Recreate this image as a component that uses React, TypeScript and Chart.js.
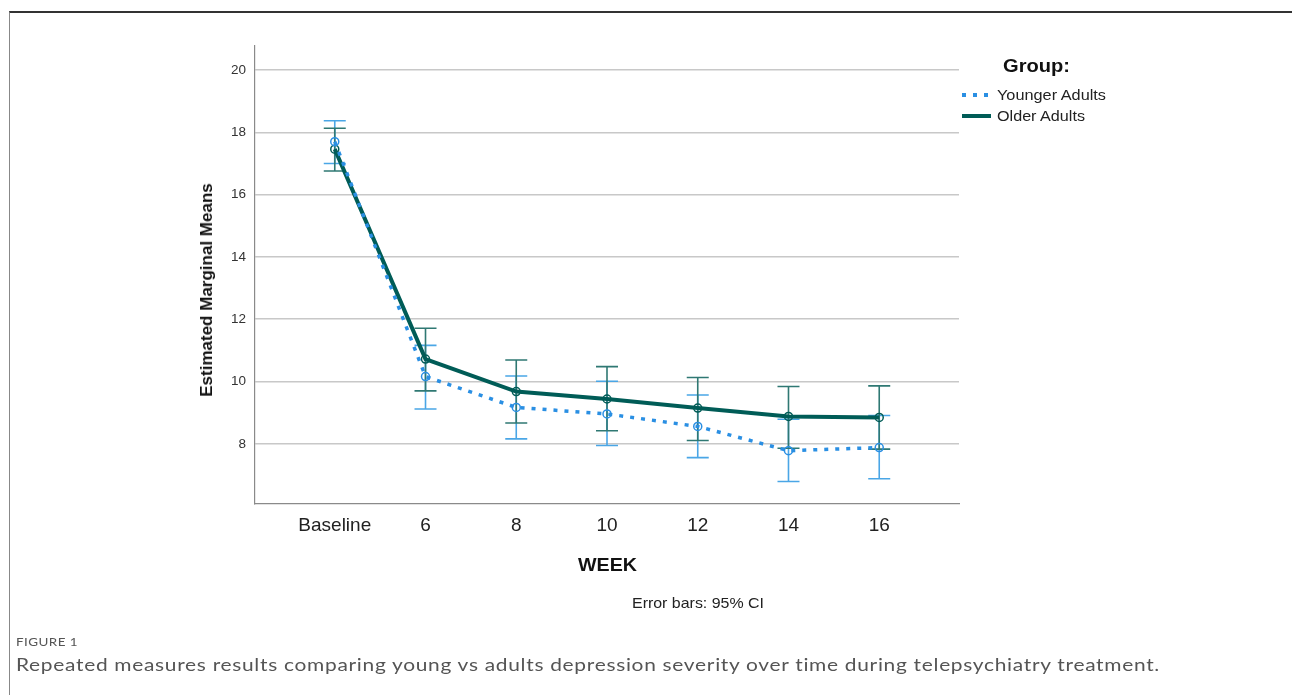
import React, { useEffect, useLayoutEffect, useRef } from "react";
import { Chart, registerables } from "chart.js";

Chart.register(...registerables);

const categories = ["Baseline", "6", "8", "10", "12", "14", "16"];
const youngerMeans = [17.7, 10.16, 9.17, 8.96, 8.56, 7.78, 7.88];
const youngerLower = [17.0, 9.12, 8.16, 7.95, 7.56, 6.79, 6.88];
const youngerUpper = [18.37, 11.16, 10.18, 10.01, 9.57, 8.79, 8.91];
const olderMeans = [17.46, 10.72, 9.68, 9.44, 9.15, 8.88, 8.85];
const olderLower = [16.76, 9.7, 8.67, 8.42, 8.11, 7.86, 7.83];
const olderUpper = [18.13, 11.71, 10.69, 10.48, 10.13, 9.84, 9.86];
const yTicks = [8, 10, 12, 14, 16, 18, 20];

const YOUNG = "#2a8fe3";
const YOUNG_EB = "#4aa6e6";
const OLD = "#005c57";
const OLD_EB = "#2f7873";
const ARIAL = "'Liberation Sans', Arial, sans-serif";

const errorBarPlugin = {
  id: "errorBars",
  beforeDatasetsDraw(chart: any) {
    const { ctx, scales } = chart;
    const sets = [
      { lo: youngerLower, hi: youngerUpper, color: YOUNG_EB },
      { lo: olderLower, hi: olderUpper, color: OLD_EB },
    ];
    ctx.save();
    sets.forEach((s) => {
      ctx.strokeStyle = s.color;
      ctx.lineWidth = 1.6;
      s.lo.forEach((lo, i) => {
        const x = scales.x.getPixelForValue(i);
        const y1 = scales.y.getPixelForValue(lo);
        const y2 = scales.y.getPixelForValue(s.hi[i]);
        ctx.beginPath();
        ctx.moveTo(x, y1);
        ctx.lineTo(x, y2);
        ctx.moveTo(x - 11, y1);
        ctx.lineTo(x + 11, y1);
        ctx.moveTo(x - 11, y2);
        ctx.lineTo(x + 11, y2);
        ctx.stroke();
      });
    });
    ctx.restore();
  },
};

type FitProps = {
  text: string;
  target: number;
  style: React.CSSProperties;
  box: React.CSSProperties;
};

function FitText({ text, target, style, box }: FitProps) {
  const ref = useRef<HTMLSpanElement | null>(null);
  useLayoutEffect(() => {
    const el = ref.current;
    if (!el) return;
    el.style.transform = "none";
    const w = el.getBoundingClientRect().width;
    if (w <= 0) return;
    el.style.transform = `scaleX(${target / w})`;
  }, [text, target]);
  return (
    <div style={{ position: "absolute", ...box }}>
      <span ref={ref} style={{ display: "inline-block", whiteSpace: "nowrap", transformOrigin: "left center", ...style }}>
        {text}
      </span>
    </div>
  );
}

export default function App() {
  const ref = useRef<HTMLCanvasElement | null>(null);

  useEffect(() => {
    if (!ref.current) return;
    const chart = new Chart(ref.current, {
      type: "line",
      data: {
        datasets: [
          {
            label: "Younger Adults",
            data: youngerMeans.map((v, i) => ({ x: i, y: v })),
            borderColor: YOUNG,
            borderWidth: 3.5,
            borderDash: [4, 7],
            borderCapStyle: "butt",
            pointStyle: "circle",
            pointRadius: 4,
            pointBorderWidth: 1.5,
            pointBorderColor: YOUNG,
            pointBackgroundColor: "rgba(255,255,255,0)",
            tension: 0,
          },
          {
            label: "Older Adults",
            data: olderMeans.map((v, i) => ({ x: i, y: v })),
            borderColor: OLD,
            borderWidth: 4,
            pointStyle: "circle",
            pointRadius: 4,
            pointBorderWidth: 1.5,
            pointBorderColor: OLD,
            pointBackgroundColor: "rgba(255,255,255,0)",
            tension: 0,
          },
        ],
      },
      options: {
        animation: false,
        responsive: false,
        events: [],
        layout: { padding: { left: 185, right: 333, top: 46, bottom: 151 } },
        plugins: { legend: { display: false }, tooltip: { enabled: false } },
        scales: {
          x: {
            type: "linear",
            min: -0.879,
            max: 6.879,
            afterBuildTicks: (scale: any) => {
              scale.ticks = categories.map((_, i) => ({ value: i }));
            },
            afterFit: (scale: any) => {
              scale.height = 40;
            },
            ticks: {
              callback: (v: any) => categories[v] ?? "",
              font: { family: ARIAL, size: 19 },
              color: "#222",
              padding: 10,
              maxRotation: 0,
              autoSkip: false,
            },
            grid: { display: false, drawTicks: false },
            border: { display: true, color: "#8a8a8a", width: 1.2 },
          },
          y: {
            type: "linear",
            min: 6.07,
            max: 20.77,
            afterBuildTicks: (scale: any) => {
              scale.ticks = yTicks.map((v) => ({ value: v }));
            },
            afterFit: (scale: any) => {
              scale.width = 70;
            },
            ticks: {
              font: { family: ARIAL, size: 13.5 },
              color: "#333",
              padding: 9,
            },
            grid: { color: "#c8c8c8", lineWidth: 1.5, drawTicks: false },
            border: { display: true, color: "#8a8a8a", width: 1.2 },
          },
        },
      },
      plugins: [errorBarPlugin],
    } as any);
    return () => chart.destroy();
  }, []);

  const abs = (o: React.CSSProperties): React.CSSProperties => ({ position: "absolute", ...o });
  const caption = "Repeated measures results comparing young vs adults depression severity over time during telepsychiatry treatment.";

  return (
    <div style={{ position: "absolute", left: 0, top: 0, width: 1292, height: 695, background: "#fff", overflow: "hidden" }}>
      <div style={abs({ left: 9, top: 11, width: 1290, height: 690, borderTop: "2px solid #333", borderLeft: "1px solid #888", boxSizing: "border-box" })} />
      <canvas ref={ref} width={1292} height={695} style={abs({ left: 0, top: 0, width: 1292, height: 695 })} />
      <div style={abs({ left: 207, top: 290, transform: "translate(-50%,-50%) rotate(-90deg)", whiteSpace: "nowrap", fontFamily: ARIAL, fontWeight: "bold", fontSize: 17, color: "#111" })}>
        Estimated Marginal Means
      </div>
      <FitText text="WEEK" target={59} box={{ left: 578, top: 565, transform: "translateY(-50%)" }} style={{ fontFamily: ARIAL, fontWeight: "bold", fontSize: 18, color: "#111" }} />
      <FitText text="Error bars: 95% CI" target={132} box={{ left: 632, top: 603, transform: "translateY(-50%)" }} style={{ fontFamily: ARIAL, fontSize: 14.5, color: "#222" }} />
      <FitText text="Group:" target={67} box={{ left: 1003, top: 66, transform: "translateY(-50%)" }} style={{ fontFamily: ARIAL, fontWeight: "bold", fontSize: 18, color: "#111" }} />
      {[0, 1, 2].map((k) => (
        <div key={k} style={abs({ left: 962 + k * 11, top: 93, width: 4, height: 4, background: YOUNG })} />
      ))}
      <FitText text="Younger Adults" target={109} box={{ left: 997, top: 95, transform: "translateY(-50%)" }} style={{ fontFamily: ARIAL, fontSize: 15, color: "#222" }} />
      <div style={abs({ left: 962, top: 114, width: 29, height: 4, background: OLD })} />
      <FitText text="Older Adults" target={88} box={{ left: 997, top: 116, transform: "translateY(-50%)" }} style={{ fontFamily: ARIAL, fontSize: 15, color: "#222" }} />
      <FitText text="FIGURE 1" target={62} box={{ left: 16, top: 641, transform: "translateY(-50%)" }} style={{ fontFamily: "Lato, sans-serif", fontSize: 12, letterSpacing: 0.4, color: "#555" }} />
      <FitText text={caption} target={1144} box={{ left: 16, top: 664, transform: "translateY(-50%)" }} style={{ fontFamily: "Lato, sans-serif", fontSize: 18, letterSpacing: 0.6, color: "#555" }} />
    </div>
  );
}
